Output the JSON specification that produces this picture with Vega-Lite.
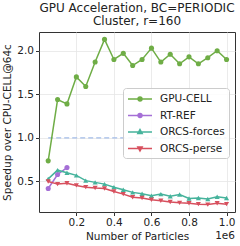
{
  "$schema": "https://vega.github.io/schema/vega-lite/v6.json",
  "width": 196,
  "height": 180,
  "autosize": {"type": "none"},
  "padding": {"left": 39, "top": 32, "right": 5, "bottom": 34},
  "title": {
    "text": ["GPU Acceleration, BC=PERIODIC", "Cluster, r=160"],
    "fontSize": 12,
    "fontWeight": "normal",
    "font": "DejaVu Sans",
    "color": "#222222",
    "lineHeight": 13.5,
    "offset": 4,
    "anchor": "middle"
  },
  "config": {
    "view": {"stroke": "#333333", "strokeWidth": 1},
    "axis": {
      "labelFont": "DejaVu Sans",
      "titleFont": "DejaVu Sans",
      "labelFontSize": 10.5,
      "titleFontSize": 10.5,
      "titleFontWeight": "normal",
      "labelColor": "#222222",
      "titleColor": "#222222",
      "gridColor": "#e6e6e6",
      "gridWidth": 0.8,
      "tickColor": "#333333",
      "tickSize": 3.5,
      "domain": false,
      "labelPadding": 2
    },
    "legend": {
      "labelFont": "DejaVu Sans",
      "labelFontSize": 10.5,
      "labelColor": "#222222"
    }
  },
  "datasets": {
    "series": [
      {"series": "GPU-CELL", "n": 0.05, "v": 0.737},
      {"series": "GPU-CELL", "n": 0.10, "v": 1.44},
      {"series": "GPU-CELL", "n": 0.15, "v": 1.39},
      {"series": "GPU-CELL", "n": 0.20, "v": 1.70},
      {"series": "GPU-CELL", "n": 0.25, "v": 1.59},
      {"series": "GPU-CELL", "n": 0.30, "v": 1.87},
      {"series": "GPU-CELL", "n": 0.35, "v": 2.13},
      {"series": "GPU-CELL", "n": 0.40, "v": 1.90},
      {"series": "GPU-CELL", "n": 0.45, "v": 1.97},
      {"series": "GPU-CELL", "n": 0.50, "v": 1.83},
      {"series": "GPU-CELL", "n": 0.55, "v": 1.90},
      {"series": "GPU-CELL", "n": 0.60, "v": 2.03},
      {"series": "GPU-CELL", "n": 0.65, "v": 1.87},
      {"series": "GPU-CELL", "n": 0.70, "v": 1.96},
      {"series": "GPU-CELL", "n": 0.75, "v": 1.85},
      {"series": "GPU-CELL", "n": 0.80, "v": 1.93},
      {"series": "GPU-CELL", "n": 0.85, "v": 1.85},
      {"series": "GPU-CELL", "n": 0.90, "v": 1.92},
      {"series": "GPU-CELL", "n": 0.95, "v": 2.00},
      {"series": "GPU-CELL", "n": 1.00, "v": 1.90},
      {"series": "RT-REF", "n": 0.05, "v": 0.42},
      {"series": "RT-REF", "n": 0.10, "v": 0.58},
      {"series": "RT-REF", "n": 0.15, "v": 0.66},
      {"series": "ORCS-forces", "n": 0.05, "v": 0.53},
      {"series": "ORCS-forces", "n": 0.10, "v": 0.63},
      {"series": "ORCS-forces", "n": 0.15, "v": 0.60},
      {"series": "ORCS-forces", "n": 0.20, "v": 0.57},
      {"series": "ORCS-forces", "n": 0.25, "v": 0.51},
      {"series": "ORCS-forces", "n": 0.30, "v": 0.49},
      {"series": "ORCS-forces", "n": 0.35, "v": 0.47},
      {"series": "ORCS-forces", "n": 0.40, "v": 0.435},
      {"series": "ORCS-forces", "n": 0.45, "v": 0.405},
      {"series": "ORCS-forces", "n": 0.50, "v": 0.375},
      {"series": "ORCS-forces", "n": 0.55, "v": 0.36},
      {"series": "ORCS-forces", "n": 0.60, "v": 0.336},
      {"series": "ORCS-forces", "n": 0.65, "v": 0.355},
      {"series": "ORCS-forces", "n": 0.70, "v": 0.33},
      {"series": "ORCS-forces", "n": 0.75, "v": 0.35},
      {"series": "ORCS-forces", "n": 0.80, "v": 0.305},
      {"series": "ORCS-forces", "n": 0.85, "v": 0.31},
      {"series": "ORCS-forces", "n": 0.90, "v": 0.30},
      {"series": "ORCS-forces", "n": 0.95, "v": 0.325},
      {"series": "ORCS-forces", "n": 1.00, "v": 0.31},
      {"series": "ORCS-perse", "n": 0.05, "v": 0.50},
      {"series": "ORCS-perse", "n": 0.10, "v": 0.47},
      {"series": "ORCS-perse", "n": 0.15, "v": 0.48},
      {"series": "ORCS-perse", "n": 0.20, "v": 0.455},
      {"series": "ORCS-perse", "n": 0.25, "v": 0.435},
      {"series": "ORCS-perse", "n": 0.30, "v": 0.425},
      {"series": "ORCS-perse", "n": 0.35, "v": 0.42},
      {"series": "ORCS-perse", "n": 0.40, "v": 0.385},
      {"series": "ORCS-perse", "n": 0.45, "v": 0.355},
      {"series": "ORCS-perse", "n": 0.50, "v": 0.32},
      {"series": "ORCS-perse", "n": 0.55, "v": 0.31},
      {"series": "ORCS-perse", "n": 0.60, "v": 0.29},
      {"series": "ORCS-perse", "n": 0.65, "v": 0.28},
      {"series": "ORCS-perse", "n": 0.70, "v": 0.265},
      {"series": "ORCS-perse", "n": 0.75, "v": 0.255},
      {"series": "ORCS-perse", "n": 0.80, "v": 0.25},
      {"series": "ORCS-perse", "n": 0.85, "v": 0.24},
      {"series": "ORCS-perse", "n": 0.90, "v": 0.235},
      {"series": "ORCS-perse", "n": 0.95, "v": 0.25},
      {"series": "ORCS-perse", "n": 1.00, "v": 0.24}
    ],
    "ref": [{"n": 0.05, "n2": 1.0, "v": 1.0}],
    "note": [{"n": 1.045, "v": 0.15, "label": "1e6"}]
  },
  "layer": [
    {
      "data": {"name": "ref"},
      "mark": {"type": "rule", "color": "#a4bde9", "strokeWidth": 1.4, "strokeDash": [5, 3]},
      "encoding": {
        "x": {"field": "n", "type": "quantitative",
          "scale": {"domain": [0.001, 1.045], "nice": false, "zero": false},
          "axis": {"values": [0.2, 0.4, 0.6, 0.8, 1.0], "format": ".1f", "title": "Number of Particles", "titlePadding": 3, "grid": true}},
        "x2": {"field": "n2"},
        "y": {"field": "v", "type": "quantitative",
          "scale": {"domain": [0.15, 2.215], "nice": false, "zero": false},
          "axis": {"values": [0.5, 1.0, 1.5, 2.0], "format": ".1f", "title": "Speedup over CPU-CELL@64c", "titlePadding": 4, "grid": true}}
      }
    },
    {
      "data": {"name": "series"},
      "mark": {"type": "line", "strokeWidth": 1.5},
      "encoding": {
        "x": {"field": "n", "type": "quantitative"},
        "y": {"field": "v", "type": "quantitative"},
        "color": {"field": "series", "type": "nominal",
          "scale": {"domain": ["GPU-CELL", "RT-REF", "ORCS-forces", "ORCS-perse"],
                    "range": ["#6fad46", "#a56fd6", "#46b39c", "#d7505e"]},
          "legend": {
            "title": null,
            "orient": "none",
            "legendX": 84,
            "legendY": 56,
            "padding": 4,
            "fillColor": "rgba(255,255,255,0.85)",
            "strokeColor": "#cccccc",
            "cornerRadius": 3,
            "symbolSize": 144,
            "symbolType": "stroke",
            "symbolStrokeWidth": 1.5,
            "rowPadding": 3.5,
            "labelOffset": 19,
            "labelLimit": 200,
            "encode": {
              "symbols": {
                "update": {
                  "shape": {"signal": "datum.value == 'ORCS-forces' ? 'M-1,0L3,0M1,-0.4L1.36,0.24L0.64,0.24Z' : datum.value == 'ORCS-perse' ? 'M-1,0L3,0M1,0.4L1.36,-0.24L0.64,-0.24Z' : 'M-1,0L3,0M0.67,0A0.33,0.33 0 1,1 1.33,0A0.33,0.33 0 1,1 0.67,0Z'"},
                  "fill": {"scale": "color", "field": "value"},
                  "stroke": {"scale": "color", "field": "value"},
                  "fillOpacity": {"value": 1},
                  "strokeWidth": {"value": 1.5}
                }
              }
            }
          }
        }
      }
    },
    {
      "data": {"name": "series"},
      "transform": [{"filter": {"field": "series", "oneOf": ["GPU-CELL", "RT-REF"]}}],
      "mark": {"type": "point", "shape": "circle", "filled": true, "opacity": 1, "size": 26},
      "encoding": {
        "x": {"field": "n", "type": "quantitative"},
        "y": {"field": "v", "type": "quantitative"},
        "color": {"field": "series", "type": "nominal", "legend": null}
      }
    },
    {
      "data": {"name": "series"},
      "transform": [{"filter": {"field": "series", "equal": "ORCS-forces"}}],
      "mark": {"type": "point", "shape": "triangle-up", "filled": true, "opacity": 1, "size": 26},
      "encoding": {
        "x": {"field": "n", "type": "quantitative"},
        "y": {"field": "v", "type": "quantitative"},
        "color": {"field": "series", "type": "nominal", "legend": null}
      }
    },
    {
      "data": {"name": "series"},
      "transform": [{"filter": {"field": "series", "equal": "ORCS-perse"}}],
      "mark": {"type": "point", "shape": "triangle-down", "filled": true, "opacity": 1, "size": 26},
      "encoding": {
        "x": {"field": "n", "type": "quantitative"},
        "y": {"field": "v", "type": "quantitative"},
        "color": {"field": "series", "type": "nominal", "legend": null}
      }
    },
    {
      "data": {"name": "note"},
      "mark": {"type": "text", "align": "right", "baseline": "top", "dy": 19, "fontSize": 10.5, "font": "DejaVu Sans", "color": "#222222", "clip": false},
      "encoding": {
        "x": {"field": "n", "type": "quantitative"},
        "y": {"field": "v", "type": "quantitative"},
        "text": {"field": "label"}
      }
    }
  ]
}
